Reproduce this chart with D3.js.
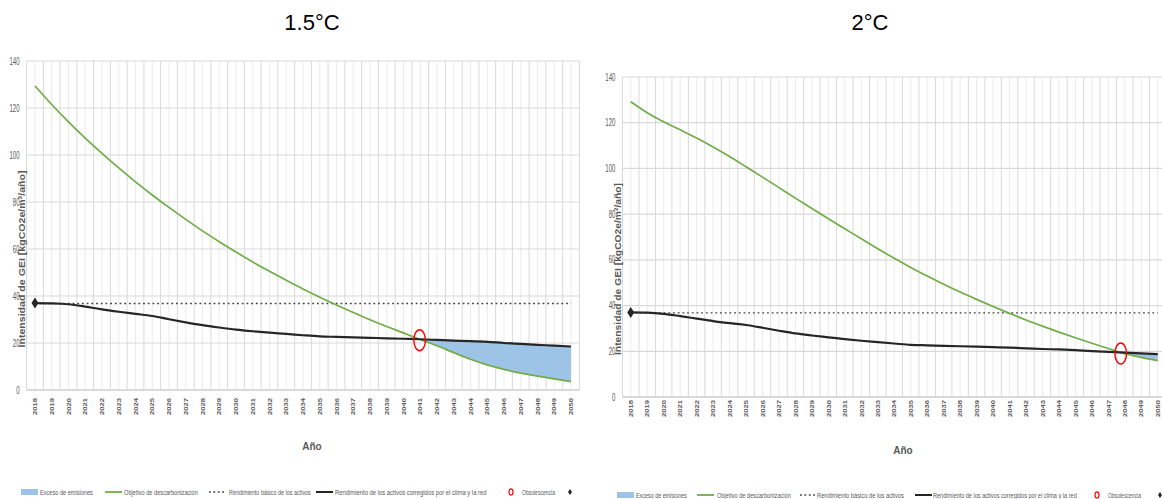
<!DOCTYPE html>
<html>
<head>
<meta charset="utf-8">
<script src="https://cdn.jsdelivr.net/npm/d3@7"></script>
<style>
  html, body { margin: 0; padding: 0; background: #fff; }
  svg { display: block; }
</style>
</head>
<body>
<svg id="chart" width="1162" height="499"></svg>
<script>
// Categories (years) and y-axis ticks
const years = [2018, 2019, 2020, 2021, 2022, 2023, 2024, 2025, 2026, 2027, 2028,
               2029, 2030, 2031, 2032, 2033, 2034, 2035, 2036, 2037, 2038, 2039,
               2040, 2041, 2042, 2043, 2044, 2045, 2046, 2047, 2048, 2049, 2050];
const yTicks = [0, 20, 40, 60, 80, 100, 120, 140];

// 1.5°C scenario
const target15 = [129.4, 121.5, 114.1, 107.2, 100.7, 94.5, 88.6, 83.0, 77.7, 72.6, 67.7,
                  63.1, 58.7, 54.5, 50.5, 46.7, 43.0, 39.5, 36.2, 33.0, 29.9, 27.0,
                  24.3, 21.5, 18.8, 15.9, 13.1, 10.7, 8.8, 7.2, 5.9, 4.7, 3.6];
const corrected15 = [37.0, 36.9, 36.5, 35.5, 34.3, 33.3, 32.4, 31.5, 30.1, 28.8, 27.6,
                     26.6, 25.7, 25.0, 24.4, 23.9, 23.3, 22.8, 22.6, 22.4, 22.2, 22.0,
                     21.8, 21.6, 21.3, 21.0, 20.8, 20.5, 20.0, 19.6, 19.2, 18.9, 18.5];
const baseline15 = [36.8, 36.8, 36.8, 36.8, 36.8, 36.8, 36.8, 36.8, 36.8, 36.8, 36.8,
                    36.8, 36.8, 36.8, 36.8, 36.8, 36.8, 36.8, 36.8, 36.8, 36.8, 36.8,
                    36.8, 36.8, 36.8, 36.8, 36.8, 36.8, 36.8, 36.8, 36.8, 36.8, 36.8];

// 2°C scenario
const target2 = [129.2, 124.4, 120.4, 116.9, 113.3, 109.4, 105.2, 100.7, 96.2, 91.6, 87.0,
                 82.5, 78.0, 73.6, 69.2, 64.9, 60.7, 56.7, 52.9, 49.3, 45.9, 42.7,
                 39.6, 36.6, 33.7, 31.0, 28.4, 25.9, 23.5, 21.2, 18.9, 17.3, 15.9];
const corrected2 = [37.0, 36.9, 36.4, 35.4, 34.3, 33.2, 32.3, 31.5, 30.3, 29.0, 27.8,
                    26.9, 26.1, 25.3, 24.6, 24.0, 23.4, 22.8, 22.6, 22.4, 22.2, 22.0,
                    21.8, 21.6, 21.3, 21.0, 20.8, 20.5, 20.1, 19.7, 19.4, 19.1, 18.8];
const baseline2 = [36.8, 36.8, 36.8, 36.8, 36.8, 36.8, 36.8, 36.8, 36.8, 36.8, 36.8,
                   36.8, 36.8, 36.8, 36.8, 36.8, 36.8, 36.8, 36.8, 36.8, 36.8, 36.8,
                   36.8, 36.8, 36.8, 36.8, 36.8, 36.8, 36.8, 36.8, 36.8, 36.8, 36.8];

// Text
const titles = ["1.5°C", "2°C"];
const yAxisTitle = "Intensidad de GEI [kgCO2e/m²/año]";
const xAxisTitle = "Año";
const legendLabels = ["Exceso de emisiones", "Objetivo de descarbonización",
                      "Rendimiento básico de los activos",
                      "Rendimiento de los activos corregidos por el clima y la red",
                      "Obsolescencia"];

const C = {
  green: "#70ad47",
  black: "#262626",
  dotted: "#404040",
  fill: "#9dc3e6",
  grid: "#d9d9d9",
  gridMinor: "#ebebeb",
  text: "#595959",
  red: "#ff0000"
};
const narrow = "'Liberation Sans Narrow', 'Arial Narrow', 'Liberation Sans', sans-serif";

const svg = d3.select("#chart");

function panel(cfg) {
  const g = svg.append("g");
  const x = d3.scaleLinear().domain([years[0] - 0.5, years[years.length - 1] + 0.5])
    .range([cfg.left, cfg.right]);
  const y = d3.scaleLinear().domain([0, 140]).range([cfg.bottom, cfg.top]);

  // Title
  g.append("text").attr("x", cfg.titleX).attr("y", 30)
    .attr("text-anchor", "middle")
    .style("font-family", "'Liberation Sans', Arial, sans-serif")
    .style("font-size", "22px").attr("fill", "#000").text(cfg.title);

  // Vertical gridlines: category boundaries and centres
  const bounds = years.map(d => d - 0.5).concat([years[years.length - 1] + 0.5]);
  g.append("g").selectAll("line").data(years).join("line")
    .attr("x1", d => x(d)).attr("x2", d => x(d))
    .attr("y1", y(140)).attr("y2", y(0))
    .attr("stroke", C.gridMinor).attr("stroke-width", 1);
  g.append("g").selectAll("line").data(bounds).join("line")
    .attr("x1", d => x(d)).attr("x2", d => x(d))
    .attr("y1", y(140)).attr("y2", y(0))
    .attr("stroke", C.grid).attr("stroke-width", 1);

  // Horizontal gridlines
  g.append("g").selectAll("line").data(yTicks).join("line")
    .attr("x1", cfg.left).attr("x2", cfg.right)
    .attr("y1", d => y(d)).attr("y2", d => y(d))
    .attr("stroke", C.grid).attr("stroke-width", d => d === 0 ? 2 : 1.2);

  // Y tick labels
  g.append("g").selectAll("text").data(yTicks).join("text")
    .attr("x", cfg.left - 7).attr("y", d => y(d) + 3.5)
    .attr("text-anchor", "end")
    .attr("textLength", d => String(d).length * 3.4)
    .attr("lengthAdjust", "spacingAndGlyphs")
    .style("font-family", narrow).style("font-size", "10px")
    .attr("fill", C.text).text(d => d);

  // X tick labels (rotated)
  g.append("g").selectAll("text").data(years).join("text")
    .attr("transform", d => `translate(${x(d) + 2.2},${cfg.bottom + cfg.labelGap}) rotate(-90)`)
    .attr("text-anchor", "end")
    .attr("textLength", 17).attr("lengthAdjust", "spacingAndGlyphs")
    .style("font-family", "'Liberation Sans', Arial, sans-serif")
    .style("font-size", "6px").style("font-weight", "bold")
    .attr("fill", C.text).text(d => d);

  // Axis titles
  g.append("text").attr("x", cfg.xTitleX).attr("y", cfg.xTitleY)
    .attr("text-anchor", "middle")
    .style("font-family", narrow).style("font-size", "10px").style("font-weight", "bold")
    .attr("fill", C.text).text(xAxisTitle);
  g.append("text")
    .attr("transform", `translate(${cfg.yTitleX},${cfg.yTitleY}) rotate(-90)`)
    .attr("text-anchor", "middle")
    .attr("textLength", cfg.yTitleLen).attr("lengthAdjust", "spacingAndGlyphs")
    .style("font-family", "'Liberation Sans', Arial, sans-serif")
    .style("font-size", "9px").style("font-weight", "bold")
    .attr("fill", C.text).text(yAxisTitle);

  const rows = years.map((yr, i) => ({ yr, t: cfg.target[i], c: cfg.corrected[i], b: cfg.baseline[i] }));

  // Excess emissions: where corrected performance is above the target pathway
  let cross = null;
  const excess = [];
  for (let i = 0; i < rows.length; i++) {
    const r = rows[i];
    if (r.c >= r.t) {
      if (i > 0 && rows[i - 1].c < rows[i - 1].t && !cross) {
        const p = rows[i - 1];
        const f = (p.t - p.c) / ((p.t - p.c) + (r.c - r.t));
        const yr = p.yr + f;
        const v = p.c + f * (r.c - p.c);
        cross = { yr, v };
        if (f < 1) excess.push({ yr, t: v, c: v });
      } else if (!cross) {
        cross = { yr: r.yr, v: r.c };
      }
      excess.push(r);
    }
  }
  g.append("path").datum(excess)
    .attr("d", d3.area().curve(d3.curveMonotoneX).x(d => x(d.yr)).y0(d => y(d.t)).y1(d => y(d.c)))
    .attr("fill", C.fill).attr("stroke", "none");

  // Baseline (dotted)
  g.append("path").datum(rows)
    .attr("d", d3.line().x(d => x(d.yr)).y(d => y(d.b)))
    .attr("fill", "none").attr("stroke", C.dotted)
    .attr("stroke-width", 1.4).attr("stroke-dasharray", "1.8,2.9");

  // Decarbonisation target
  g.append("path").datum(rows)
    .attr("d", d3.line().curve(d3.curveMonotoneX).x(d => x(d.yr)).y(d => y(d.t)))
    .attr("fill", "none").attr("stroke", C.green).attr("stroke-width", 1.7);

  // Climate- and grid-corrected performance
  g.append("path").datum(rows)
    .attr("d", d3.line().curve(d3.curveMonotoneX).x(d => x(d.yr)).y(d => y(d.c)))
    .attr("fill", "none").attr("stroke", C.black).attr("stroke-width", 2.2);

  // Starting point marker
  g.append("path")
    .attr("transform", `translate(${x(years[0])},${y(cfg.corrected[0])})`)
    .attr("d", "M0,-5.5 L3.5,0 L0,5.5 L-3.5,0 Z").attr("fill", C.black);

  // Stranding point
  if (cross) {
    g.append("ellipse").attr("cx", x(cross.yr)).attr("cy", y(cross.v) + 1)
      .attr("rx", 5.8).attr("ry", 10.5)
      .attr("fill", "none").attr("stroke", C.red).attr("stroke-width", 1.4);
  }

  // Legend (condensed text squeezed horizontally to its slot width)
  const lg = g.append("g").attr("transform", `translate(${cfg.legX},${cfg.legY})`);
  const L = cfg.leg;
  const txt = (xx, w, s) => {
    const t = lg.append("text").attr("y", 2.6)
      .style("font-family", narrow).style("font-size", "7.5px")
      .attr("fill", C.text).text(s);
    const natural = t.node().getComputedTextLength();
    const sx = natural > 0 ? w / natural : 1;
    t.attr("transform", `translate(${xx},0) scale(${sx},1)`);
  };
  lg.append("rect").attr("x", 0).attr("y", -3).attr("width", 17).attr("height", 6).attr("fill", C.fill);
  txt(L[0], L[1], legendLabels[0]);
  lg.append("line").attr("x1", L[2]).attr("x2", L[2] + 17).attr("y1", 0).attr("y2", 0)
    .attr("stroke", C.green).attr("stroke-width", 1.8);
  txt(L[3], L[4], legendLabels[1]);
  lg.append("line").attr("x1", L[5]).attr("x2", L[5] + 16).attr("y1", 0).attr("y2", 0)
    .attr("stroke", C.dotted).attr("stroke-width", 1.3).attr("stroke-dasharray", "1.8,2.6");
  txt(L[6], L[7], legendLabels[2]);
  lg.append("line").attr("x1", L[8]).attr("x2", L[8] + 17).attr("y1", 0).attr("y2", 0)
    .attr("stroke", C.black).attr("stroke-width", 2);
  txt(L[9], L[10], legendLabels[3]);
  lg.append("ellipse").attr("cx", L[11]).attr("cy", 0).attr("rx", 2).attr("ry", 3.2)
    .attr("fill", "none").attr("stroke", C.red).attr("stroke-width", 1.2);
  txt(L[12], L[13], legendLabels[4]);
  lg.append("path").attr("transform", `translate(${L[14]},0)`)
    .attr("d", "M0,-3 L2,0 L0,3 L-2,0 Z").attr("fill", C.black);
}

panel({
  title: titles[0], titleX: 312,
  left: 26.6, right: 579.4, top: 61, bottom: 390, labelGap: 8,
  target: target15, corrected: corrected15, baseline: baseline15,
  xTitleX: 312, xTitleY: 450, yTitleX: 25, yTitleY: 259, yTitleLen: 177,
  legX: 21, legY: 492,
  leg: [19, 53, 84, 103, 74, 188, 208, 82, 295, 314, 152, 490, 501, 33, 549]
});

panel({
  title: titles[1], titleX: 870,
  left: 622.5, right: 1166, top: 77, bottom: 397, labelGap: 3,
  target: target2, corrected: corrected2, baseline: baseline2,
  xTitleX: 903, xTitleY: 454, yTitleX: 621, yTitleY: 269, yTitleLen: 172,
  legX: 617, legY: 495,
  leg: [19, 51, 80, 100, 74, 183, 200, 87, 298, 316, 144, 480, 491, 33, 543]
});
</script>
</body>
</html>
